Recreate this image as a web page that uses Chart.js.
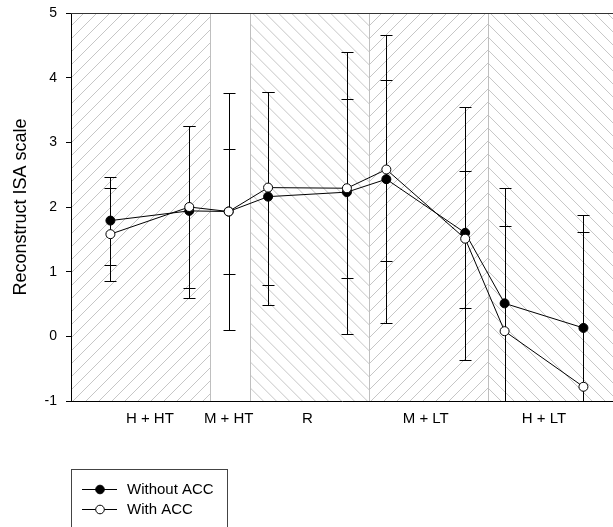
<!DOCTYPE html>
<html>
<head>
<meta charset="utf-8">
<script src="https://cdn.jsdelivr.net/npm/chart.js@4.4.1/dist/chart.umd.min.js"></script>
<style>
  html, body { margin: 0; padding: 0; background: #fff; }
  #wrap { width: 613px; height: 527px; }
</style>
</head>
<body>
<div id="wrap"><canvas id="c" width="613" height="527"></canvas></div>
<script>
// Condition positions along the x axis
const conditionPositions = [1, 3, 4, 5, 7, 8, 10, 11, 13];

// Means and error-bar limits, without ACC
const withoutMean  = [1.79, 1.94, 1.93, 2.16, 2.23, 2.43, 1.60, 0.51, 0.13];
const withoutUpper = [2.46, 3.26, 2.89, 3.78, 4.39, 4.66, 3.54, 2.30, 1.87];
const withoutLower = [1.11, 0.74, 0.97, 0.49, 0.03, 0.20, -0.37, -1.28, -1.61];

// Means and error-bar limits, with ACC
const withMean  = [1.58, 2.00, 1.93, 2.30, 2.29, 2.58, 1.51, 0.08, -0.78];
const withUpper = [2.30, 3.26, 3.76, 3.78, 3.67, 3.97, 2.55, 1.70, 1.61];
const withLower = [0.85, 0.59, 0.10, 0.79, 0.90, 1.17, 0.44, -1.54, -3.17];

// Group labels and where they sit on the x axis
const groupLabels = ['H + HT', 'M + HT', 'R', 'M + LT', 'H + LT'];
const groupLabelPositions = [2, 4, 6, 9, 12];

// Shaded condition bands (x edges) and their hatch direction
const bandEdges = [0, 3.53, 4.55, 7.56, 10.58, 13.75];
const bandHatch = ['/', '', '\\', '/', '\\'];

// Y axis ticks
const yTicks = [-1, 0, 1, 2, 3, 4, 5];

const FONT = '"Liberation Sans", Arial, Helvetica, sans-serif';

const toPoints = (ys) => ys.map((y, i) => ({ x: conditionPositions[i], y }));

const datasets = [
  {
    label: 'Without ACC',
    data: toPoints(withoutMean),
    lower: withoutLower,
    upper: withoutUpper,
    borderColor: '#000',
    backgroundColor: '#000',
    pointBackgroundColor: '#000',
    pointBorderColor: '#000',
    order: 2
  },
  {
    label: 'With ACC',
    data: toPoints(withMean),
    lower: withLower,
    upper: withUpper,
    borderColor: '#000',
    backgroundColor: '#fff',
    pointBackgroundColor: '#fff',
    pointBorderColor: '#000',
    order: 1
  }
];

// Hatched background bands, drawn beneath axes and data
const bandsPlugin = {
  id: 'bands',
  beforeDraw(chart) {
    const { ctx, chartArea: a, scales: { x } } = chart;
    const H = a.bottom - a.top;
    const step = 13;
    const run = H * 1.0;
    ctx.save();
    for (let i = 0; i < bandHatch.length; i++) {
      const x0 = x.getPixelForValue(bandEdges[i]);
      const x1 = x.getPixelForValue(bandEdges[i + 1]);
      if (!bandHatch[i]) continue;
      ctx.save();
      ctx.beginPath();
      ctx.rect(x0, a.top, x1 - x0, H);
      ctx.clip();
      ctx.strokeStyle = '#c6c6c6';
      ctx.lineWidth = 1;
      ctx.beginPath();
      for (let c = x0 - run - step; c < x1 + step; c += step) {
        if (bandHatch[i] === '/') {
          ctx.moveTo(c, a.bottom);
          ctx.lineTo(c + run, a.top);
        } else {
          ctx.moveTo(c, a.top);
          ctx.lineTo(c + run, a.bottom);
        }
      }
      ctx.stroke();
      ctx.restore();
    }
    // band separators
    ctx.strokeStyle = '#bfbfbf';
    ctx.lineWidth = 1;
    ctx.beginPath();
    for (let i = 1; i < bandEdges.length - 1; i++) {
      const px = Math.round(x.getPixelForValue(bandEdges[i])) + 0.5;
      ctx.moveTo(px, a.top);
      ctx.lineTo(px, a.bottom);
    }
    ctx.stroke();
    ctx.restore();
  }
};

// Vertical error bars with caps for each dataset
const errorBarsPlugin = {
  id: 'errorBars',
  beforeDatasetsDraw(chart) {
    const { ctx, chartArea: a, scales: { x, y } } = chart;
    ctx.save();
    ctx.beginPath();
    ctx.rect(a.left, a.top, a.right - a.left, a.bottom - a.top);
    ctx.clip();
    ctx.strokeStyle = '#000';
    ctx.lineWidth = 1;
    const cap = 6;
    chart.data.datasets.forEach((ds) => {
      ds.data.forEach((p, i) => {
        const px = Math.round(x.getPixelForValue(p.x)) + 0.5;
        const yt = Math.round(y.getPixelForValue(ds.upper[i])) + 0.5;
        const yb = Math.round(y.getPixelForValue(ds.lower[i])) + 0.5;
        ctx.beginPath();
        ctx.moveTo(px, yt);
        ctx.lineTo(px, yb);
        ctx.moveTo(px - cap, yt);
        ctx.lineTo(px + cap, yt);
        ctx.moveTo(px - cap, yb);
        ctx.lineTo(px + cap, yb);
        ctx.stroke();
      });
    });
    ctx.restore();
  }
};

// Top frame line and boxed legend
const framePlugin = {
  id: 'frame',
  afterDraw(chart) {
    const { ctx, chartArea: a } = chart;
    ctx.save();
    ctx.strokeStyle = '#333';
    ctx.lineWidth = 1;
    ctx.beginPath();
    ctx.moveTo(a.left, Math.round(a.top) + 0.5);
    ctx.lineTo(a.right, Math.round(a.top) + 0.5);
    ctx.stroke();

    // legend
    const bx = 71.5, by = 469.5, bw = 156, bh = 90;
    ctx.strokeStyle = '#444';
    ctx.strokeRect(bx, by, bw, bh);
    const items = [chart.data.datasets[0], chart.data.datasets[1]];
    items.forEach((ds, i) => {
      const cy = 489.5 + i * 20;
      ctx.strokeStyle = '#000';
      ctx.beginPath();
      ctx.moveTo(82, cy);
      ctx.lineTo(117, cy);
      ctx.stroke();
      ctx.beginPath();
      ctx.arc(100, cy, 4.3, 0, Math.PI * 2);
      ctx.fillStyle = ds.pointBackgroundColor;
      ctx.fill();
      ctx.stroke();
      ctx.fillStyle = '#000';
      ctx.font = '15px ' + FONT;
      ctx.textBaseline = 'middle';
      ctx.textAlign = 'left';
      ctx.fillText(ds.label, 127, cy);
    });
    ctx.restore();
  }
};

new Chart(document.getElementById('c'), {
  type: 'scatter',
  data: { datasets },
  options: {
    responsive: false,
    devicePixelRatio: 1,
    animation: false,
    layout: { autoPadding: false, padding: { top: 13, right: 0, left: 0, bottom: 0 } },
    elements: {
      line: { borderWidth: 1, tension: 0 },
      point: { radius: 4.5, borderWidth: 1, hoverRadius: 4.5 }
    },
    datasets: { scatter: { showLine: true } },
    plugins: {
      legend: { display: false },
      tooltip: { enabled: false }
    },
    scales: {
      x: {
        type: 'linear',
        min: bandEdges[0],
        max: bandEdges[bandEdges.length - 1],
        afterBuildTicks: (s) => { s.ticks = groupLabelPositions.map((v) => ({ value: v })); },
        afterFit: (s) => { s.height = 126; s.paddingLeft = 0; s.paddingRight = 0; },
        grid: { display: false, drawTicks: false },
        border: { display: true, color: '#000', width: 1 },
        ticks: {
          autoSkip: false,
          maxRotation: 0,
          padding: 9,
          color: '#000',
          font: { family: FONT, size: 15 },
          callback: (v) => groupLabels[groupLabelPositions.indexOf(v)]
        }
      },
      y: {
        min: -1,
        max: 5,
        afterBuildTicks: (s) => { s.ticks = yTicks.map((v) => ({ value: v })); },
        afterFit: (s) => { s.width = 71; s.paddingTop = 0; s.paddingBottom = 0; },
        grid: { drawOnChartArea: false, drawTicks: true, tickLength: 5, color: '#000' },
        border: { display: true, color: '#000', width: 1 },
        ticks: {
          padding: 9,
          color: '#000',
          font: { family: FONT, size: 14 }
        },
        title: {
          display: true,
          text: 'Reconstruct ISA scale',
          color: '#000',
          font: { family: FONT, size: 18 },
          padding: { top: 10, bottom: 0 }
        }
      }
    }
  },
  plugins: [bandsPlugin, errorBarsPlugin, framePlugin]
});
</script>
</body>
</html>
